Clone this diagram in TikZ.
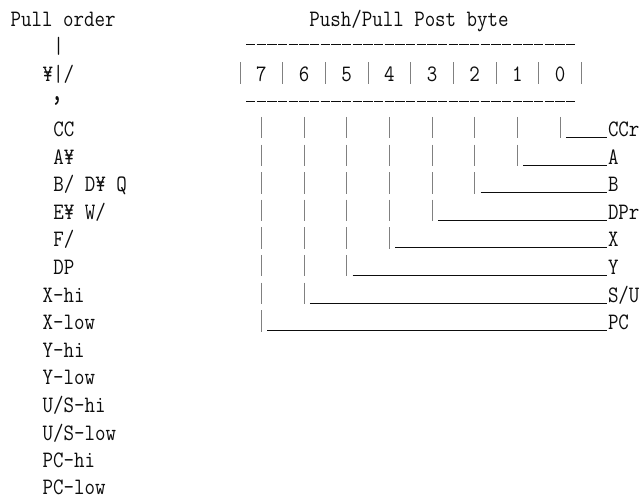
\documentclass[tikz,border=0pt]{standalone}
\usepackage{fontspec}
\definecolor{ink}{gray}{0.05}
\definecolor{barc}{gray}{0.5}
% condensed typewriter glyphs: one character cell is 10.667 units wide
\newcommand\nar[1]{\scalebox{0.867}[1]{#1}}
\tikzset{
  glyph/.style={anchor=base west, inner sep=0pt, outer sep=0pt, text=ink,
    font=\fontsize{23.5}{28}\selectfont\ttfamily},
  digit/.style={glyph, anchor=base},
  bar/.style={draw=barc, line width=0.8pt},
  rule/.style={draw=ink, line width=0.9pt, dash pattern=on 9.3pt off 1.37pt},
  lead/.style={draw=ink, line width=0.9pt},
}
\begin{document}
\begin{tikzpicture}[x=1pt, y=-1pt]
\useasboundingbox (0,0) rectangle (640,498);
\def\cw{10.6667}
% ---- left column: pull order ----
\node[glyph] (pull) at (10.67,26) {\nar{Pull order}};
\node[glyph] (stem) at (53.33,53.6) {\nar{|}};
\node[glyph] (head) at (42.67,81.2) {\nar{¥|/}};
\node[glyph, anchor=base] (tip) at (57,100) {\scalebox{1.1}[1.5]{,}};
\node[glyph] (cc) at (53.33,136.4) {\nar{CC}};
\node[glyph] (ab) at (53.33,164) {\nar{A¥}};
\node[glyph] (bd) at (53.33,191.6) {\nar{B/ D¥ Q}};
\node[glyph] (ew) at (53.33,219.2) {\nar{E¥ W/}};
\node[glyph] (ff) at (53.33,246.8) {\nar{F/}};
\node[glyph] (dp) at (53.33,274.4) {\nar{DP}};
\node[glyph] (xhi) at (42.67,302) {\nar{X-hi}};
\node[glyph] (xlo) at (42.67,329.6) {\nar{X-low}};
\node[glyph] (yhi) at (42.67,357.2) {\nar{Y-hi}};
\node[glyph] (ylo) at (42.67,384.8) {\nar{Y-low}};
\node[glyph] (uhi) at (42.67,412.4) {\nar{U/S-hi}};
\node[glyph] (ulo) at (42.67,440) {\nar{U/S-low}};
\node[glyph] (phi) at (42.67,467.6) {\nar{PC-hi}};
\node[glyph] (plo) at (42.67,494.8) {\nar{PC-low}};
% ---- right: post byte ----
\node[glyph] (title) at (309.33,26) {\nar{Push/Pull Post byte}};
\draw[rule] (246,44.5) -- (576,44.5);
\draw[rule] (246,101.3) -- (576,101.3);
% cell separators of the byte
\foreach \c in {22,26,...,54}{
  \pgfmathsetmacro\xc{\c*\cw+\cw/2}
  \draw[bar] (\xc,62) -- (\xc,84);
}
% bit numbers, bars down to each field, leaders to the field names
\foreach \k/\name in {0/CCr,1/A,2/B,3/DPr,4/X,5/Y,6/S\slash U,7/PC}{
  \pgfmathsetmacro\xc{(52-4*\k)*\cw+\cw/2}
  \pgfmathsetmacro\lr{136.4+27.6*\k}
  \node[digit] (d\k) at (\xc,81.2) {\nar{\k}};
  \node[glyph] (f\k) at (608,\lr) {\nar{\name}};
  \foreach \r in {0,...,\k}{
    \pgfmathsetmacro\br{136.4+27.6*\r}
    \draw[bar] (\xc,\br-19.5) -- (\xc,\br+2);
  }
  \coordinate (s\k) at (\xc+\cw/2+0.5,\lr+1);
  \draw[lead] (s\k) -- ([xshift=-1.5pt,yshift=-1pt]f\k.base west);
}
\end{tikzpicture}
\end{document}
